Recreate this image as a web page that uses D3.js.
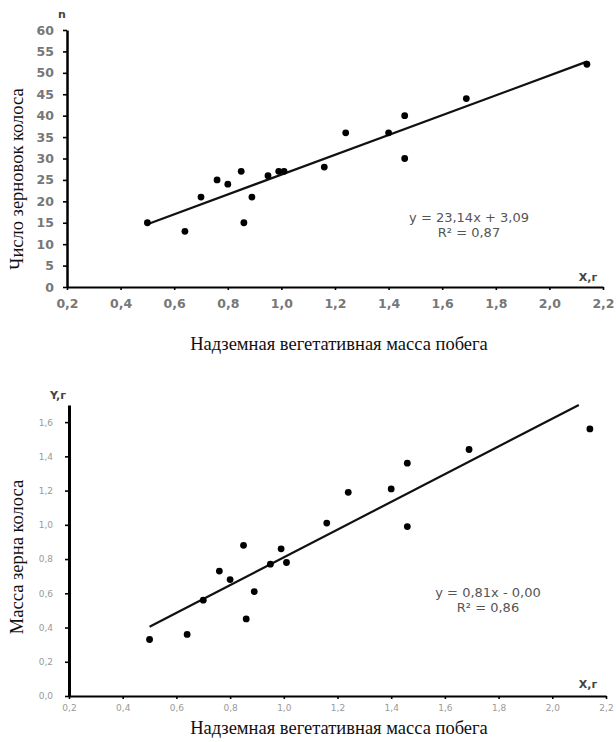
<!DOCTYPE html>
<html>
<head>
<meta charset="utf-8">
<script src="https://cdn.jsdelivr.net/npm/d3@7"></script>
<style>
  html, body { margin: 0; background: #fff; }
  svg { display: block; }
</style>
</head>
<body>
<svg id="chart" width="616" height="742"></svg>
<script>
// shoot above-ground vegetative mass, g (same plants in both panels)
const shootMass = [0.50, 0.64, 0.70, 0.76, 0.80, 0.85, 0.86, 0.89, 0.95, 0.99, 1.01, 1.16, 1.24, 1.40, 1.46, 1.46, 1.69, 2.14];
// grains per ear
const grainCount = [15, 13, 21, 25, 24, 27, 15, 21, 26, 27, 27, 28, 36, 36, 40, 30, 44, 52];
// grain mass per ear, g
const grainMass = [0.33, 0.36, 0.56, 0.73, 0.68, 0.88, 0.45, 0.61, 0.77, 0.86, 0.78, 1.01, 1.19, 1.21, 1.36, 0.99, 1.44, 1.56];

const xTicks = [0.2, 0.4, 0.6, 0.8, 1.0, 1.2, 1.4, 1.6, 1.8, 2.0, 2.2];
const countTicks = [0, 5, 10, 15, 20, 25, 30, 35, 40, 45, 50, 55, 60];
const massTicks = [0, 0.2, 0.4, 0.6, 0.8, 1.0, 1.2, 1.4, 1.6];

const countFit = [23.14, 3.09];
const massFit = [0.81, 0.0];
const countFitLabels = ["y = 23,14x + 3,09", "R² = 0,87"];
const massFitLabels = ["y = 0,81x - 0,00", "R² = 0,86"];

const xTitle = "Надземная вегетативная масса побега";

const svg = d3.select("#chart");
const ru = d3.formatLocale({ decimal: ",", thousands: " ", grouping: [3], currency: ["", ""] });

function drawPanel(cfg) {
  const g = svg.append("g");
  const x = d3.scaleLinear().domain([0.2, 2.2]).range(cfg.xRange);
  const y = d3.scaleLinear().domain(cfg.yDomain).range(cfg.yRange);

  const gX = g.append("g")
    .attr("transform", `translate(0,${cfg.yRange[0]})`)
    .call(d3.axisBottom(x).tickValues(xTicks).tickFormat(ru.format(".1f"))
      .tickSize(3).tickSizeOuter(0).tickPadding(cfg.xPad));
  const gY = g.append("g")
    .attr("transform", `translate(${cfg.xRange[0]},0)`)
    .call(d3.axisLeft(y).tickValues(cfg.yTicks).tickFormat(cfg.yFormat)
      .tickSize(4).tickSizeOuter(0).tickPadding(cfg.yPad));

  gX.select(".domain").attr("stroke", "#000").attr("stroke-width", 2);
  gY.select(".domain").attr("stroke", "#000").attr("stroke-width", cfg.yAxisWidth);
  g.selectAll(".tick line").attr("stroke", "#000").attr("stroke-width", 1.6);
  g.selectAll(".tick text")
    .attr("font-family", "DejaVu Sans")
    .attr("font-weight", cfg.tickWeight)
    .attr("font-size", cfg.tickSize)
    .attr("fill", cfg.tickColor);

  // trend line, cut at the top of the y axis
  const [a, b] = cfg.fit;
  const x0 = d3.min(shootMass);
  const x1 = Math.min(d3.max(shootMass), (cfg.yDomain[1] - b) / a);
  g.append("line")
    .attr("x1", x(x0)).attr("y1", y(a * x0 + b))
    .attr("x2", x(x1)).attr("y2", y(a * x1 + b))
    .attr("stroke", "#111")
    .attr("stroke-width", 2.2);

  g.append("g")
    .selectAll("circle")
    .data(shootMass.map((d, i) => [d, cfg.values[i]]))
    .join("circle")
    .attr("cx", (d) => x(d[0]))
    .attr("cy", (d) => y(d[1]))
    .attr("r", 3.4)
    .attr("fill", "#000");

  g.append("text")
    .attr("font-family", "DejaVu Sans")
    .attr("font-size", 13)
    .attr("fill", "#555")
    .attr("text-anchor", "middle")
    .selectAll("tspan")
    .data(cfg.fitLabels)
    .join("tspan")
    .attr("x", cfg.fitPos[0])
    .attr("y", (d, i) => cfg.fitPos[1] + i * 15)
    .text((d) => d);

  // axis unit labels
  g.append("text")
    .attr("x", cfg.yUnitPos[0]).attr("y", cfg.yUnitPos[1])
    .attr("text-anchor", "middle")
    .attr("font-family", "DejaVu Sans").attr("font-weight", "bold")
    .attr("font-size", 11).attr("fill", "#444")
    .text(cfg.yUnit);
  g.append("text")
    .attr("x", cfg.xUnitPos[0]).attr("y", cfg.xUnitPos[1])
    .attr("text-anchor", "middle")
    .attr("font-family", "DejaVu Sans").attr("font-weight", "bold")
    .attr("font-size", 11).attr("fill", "#444")
    .text("X,г");

  g.append("text")
    .attr("x", 339).attr("y", cfg.xTitleY)
    .attr("text-anchor", "middle")
    .attr("font-family", "Liberation Serif")
    .attr("font-size", 18.5)
    .attr("fill", "#111")
    .text(xTitle);
  g.append("text")
    .attr("transform", `translate(23,${cfg.yTitleY}) rotate(-90)`)
    .attr("text-anchor", "middle")
    .attr("font-family", "Liberation Serif")
    .attr("font-size", 18.5)
    .attr("fill", "#111")
    .text(cfg.yTitle);
}

drawPanel({
  values: grainCount,
  fit: countFit,
  fitLabels: countFitLabels,
  fitPos: [469, 222],
  xRange: [67, 603],
  yDomain: [0, 60],
  yRange: [287, 30],
  yTicks: countTicks,
  yFormat: d3.format("d"),
  yAxisWidth: 2.5,
  xPad: 9,
  yPad: 9,
  tickWeight: "bold",
  tickSize: 12.5,
  tickColor: "#777",
  yUnit: "n",
  yUnitPos: [62, 18],
  xUnitPos: [588, 281],
  xTitleY: 350,
  yTitle: "Число зерновок колоса",
  yTitleY: 179,
});

drawPanel({
  values: grainMass,
  fit: massFit,
  fitLabels: massFitLabels,
  fitPos: [488, 597],
  xRange: [69, 606],
  yDomain: [0, 1.7],
  yRange: [696, 405],
  yTicks: massTicks,
  yFormat: ru.format(".1f"),
  yAxisWidth: 3,
  xPad: 6,
  yPad: 12,
  tickWeight: "normal",
  tickSize: 9,
  tickColor: "#999",
  yUnit: "Y,г",
  yUnitPos: [58, 399],
  xUnitPos: [588, 688],
  xTitleY: 734,
  yTitle: "Масса зерна колоса",
  yTitleY: 557,
});
</script>
</body>
</html>
